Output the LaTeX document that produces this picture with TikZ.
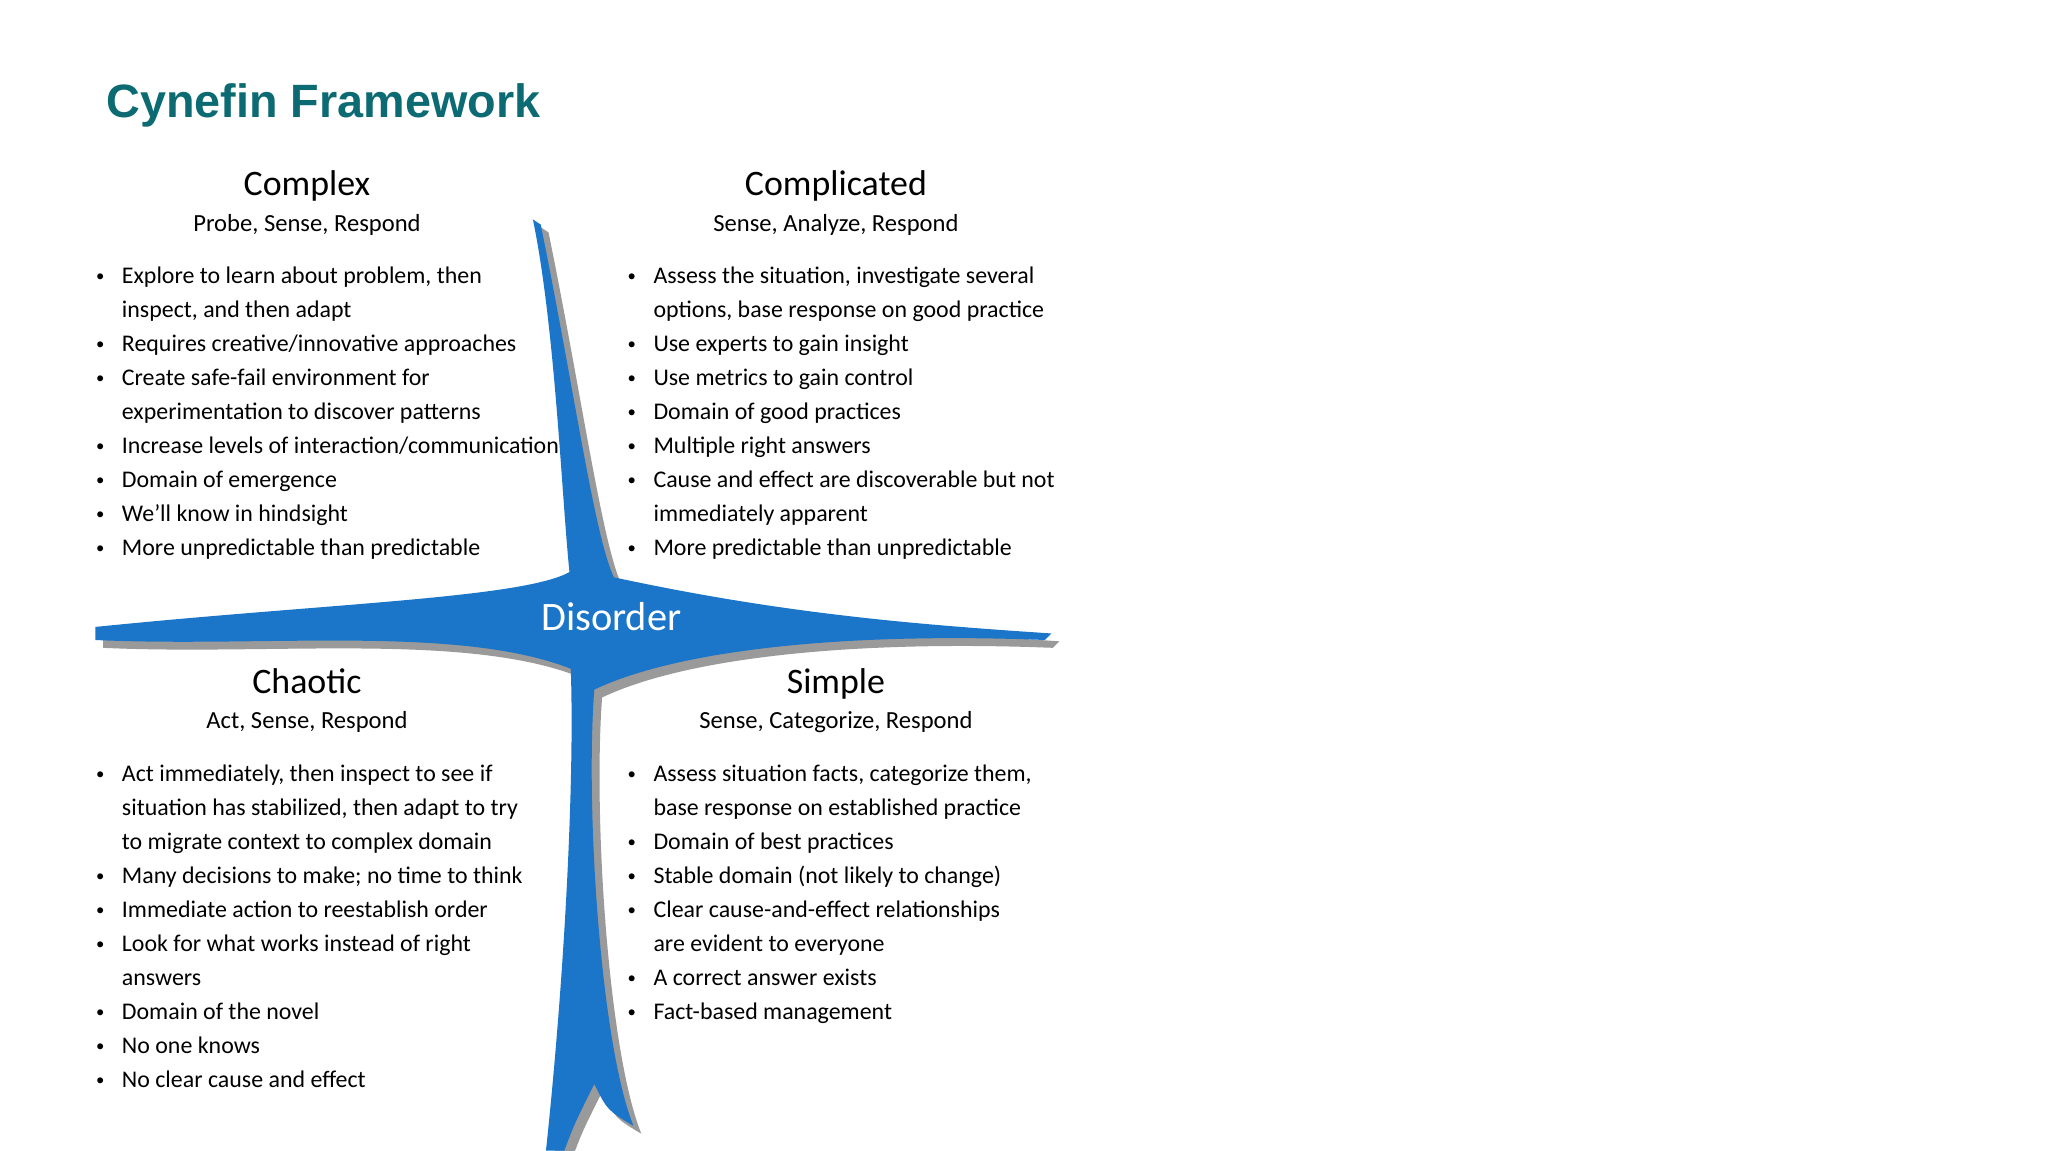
\documentclass[tikz,border=0pt]{standalone}
\usepackage{fontspec}
\setmainfont{Carlito}
\newfontfamily\titlefont{Liberation Sans}
\definecolor{teal1}{HTML}{0B6A72}
\definecolor{cblue}{HTML}{1B75C9}
\definecolor{cgray}{HTML}{9A9A9A}
\begin{document}
\begin{tikzpicture}[x=0.01306cm,y=-0.01306cm,
  head/.style={font=\fontsize{10.2}{12}\selectfont, anchor=base},
  sub/.style={font=\fontsize{7}{8}\selectfont, anchor=base},
  lst/.style={anchor=base west, inner sep=0pt, font=\fontsize{6.8}{9.68}\selectfont}]
\useasboundingbox (0,0) rectangle (1568,881);
\fill[white] (0,0) rectangle (1568,881);
\node[anchor=base west, inner sep=0pt, font=\titlefont\bfseries\fontsize{13.3}{15}\selectfont, text=teal1] (title) at (81,90) {Cynefin Framework};
\def\crosspath{(408,168) .. controls (425,250) and (430,380) .. (436,438)
 .. controls (400,458) and (250,462) .. (73,480) -- (73,490)
 .. controls (200,496) and (350,478) .. (437,512)
 .. controls (440,600) and (432,750) .. (418,881) -- (432,881)
 .. controls (440,860) .. (455,830) .. controls (465,850) .. (485,862)
 .. controls (460,800) and (448,620) .. (455,528)
 .. controls (520,497) and (650,484) .. (800,490) -- (805,485)
 .. controls (700,478) and (600,470) .. (470,442)
 .. controls (455,410) and (440,300) .. (414,172) -- cycle}
\fill[cgray, shift={(6,6)}] \crosspath;
\fill[cblue] \crosspath;
\fill[cblue] (468,472) ellipse (58 and 22);
\node[font=\fontsize{11.5}{13}\selectfont, text=white] (dis) at (468,472) {Disorder};
\node[head] (h1) at (235,150) {Complex};
\node[sub] (s1) at (235,177) {Probe, Sense, Respond};
\node[head] (h2) at (640,150) {Complicated};
\node[sub] (s2) at (640,177) {Sense, Analyze, Respond};
\node[head] (h3) at (235,531) {Chaotic};
\node[sub] (s3) at (235,558) {Act, Sense, Respond};
\node[head] (h4) at (640,531) {Simple};
\node[sub] (s4) at (640,558) {Sense, Categorize, Respond};
\renewcommand\arraystretch{1}
\newcommand\bul{\raisebox{0.15ex}{\scalebox{0.7}{•}}}
\node[lst] (l1) at (73,217) {\begin{tabular}[t]{@{}l@{\hspace{5pt}}l@{}}
\bul&Explore to learn about problem, then\\ &inspect, and then adapt\\
\bul&Requires creative/innovative approaches\\
\bul&Create safe-fail environment for\\ &experimentation to discover patterns\\
\bul&Increase levels of interaction/communication\\
\bul&Domain of emergence\\
\bul&We’ll know in hindsight\\
\bul&More unpredictable than predictable\end{tabular}};
\node[lst] (l2) at (480,217) {\begin{tabular}[t]{@{}l@{\hspace{5pt}}l@{}}
\bul&Assess the situation, investigate several\\ &options, base response on good practice\\
\bul&Use experts to gain insight\\
\bul&Use metrics to gain control\\
\bul&Domain of good practices\\
\bul&Multiple right answers\\
\bul&Cause and effect are discoverable but not\\ &immediately apparent\\
\bul&More predictable than unpredictable\end{tabular}};
\node[lst] (l3) at (73,598) {\begin{tabular}[t]{@{}l@{\hspace{5pt}}l@{}}
\bul&Act immediately, then inspect to see if\\ &situation has stabilized, then adapt to try\\ &to migrate context to complex domain\\
\bul&Many decisions to make; no time to think\\
\bul&Immediate action to reestablish order\\
\bul&Look for what works instead of right\\ &answers\\
\bul&Domain of the novel\\
\bul&No one knows\\
\bul&No clear cause and effect\end{tabular}};
\node[lst] (l4) at (480,598) {\begin{tabular}[t]{@{}l@{\hspace{5pt}}l@{}}
\bul&Assess situation facts, categorize them,\\ &base response on established practice\\
\bul&Domain of best practices\\
\bul&Stable domain (not likely to change)\\
\bul&Clear cause-and-effect relationships\\ &are evident to everyone\\
\bul&A correct answer exists\\
\bul&Fact-based management\end{tabular}};
\end{tikzpicture}
\end{document}
